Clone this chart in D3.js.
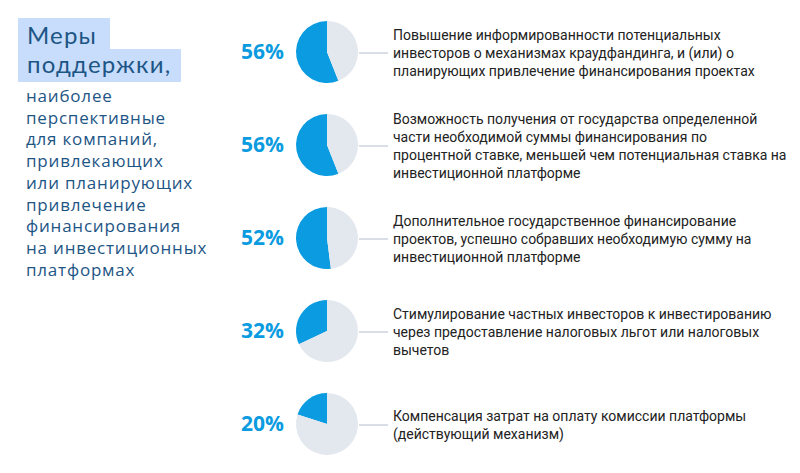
<!DOCTYPE html>
<html lang="ru">
<head>
<meta charset="utf-8">
<style>
  body { margin: 0; background: #fff; }
  svg text { font-family: "Open Sans", sans-serif; }
  .title { fill: #1d5585; font-family: Lato, sans-serif; font-size: 24px; letter-spacing: 1.2px; }
  .subtitle { fill: #1d5585; font-size: 17px; letter-spacing: 0.8px; }
  .pct { fill: #0a9be0; font-size: 21px; font-weight: 700; }
  .desc { fill: #222; font-size: 14px; font-family: Roboto, sans-serif; }
  .link { stroke: #b4bccb; stroke-width: 1; }
</style>
<script src="https://cdn.jsdelivr.net/npm/d3@7"></script>
</head>
<body>
<svg width="800" height="473"></svg>
<script>
// --- data ---
var values = [56, 56, 52, 32, 20];

var descriptions = [
  ["Повышение информированности потенциальных",
   "инвесторов о механизмах краудфандинга, и (или) о",
   "планирующих привлечение финансирования проектах"],
  ["Возможность получения от государства определенной",
   "части необходимой суммы финансирования по",
   "процентной ставке, меньшей чем потенциальная ставка на",
   "инвестиционной платформе"],
  ["Дополнительное государственное финансирование",
   "проектов, успешно собравших необходимую сумму на",
   "инвестиционной платформе"],
  ["Стимулирование частных инвесторов к инвестированию",
   "через предоставление налоговых льгот или налоговых",
   "вычетов"],
  ["Компенсация затрат на оплату комиссии платформы",
   "(действующий механизм)"]
];

var titleLines = ["Меры", "поддержки,"];

var subtitleLines = ["наиболее", "перспективные", "для компаний,", "привлекающих",
  "или планирующих", "привлечение", "финансирования", "на инвестиционных", "платформах"];

// --- layout ---
var svg = d3.select("svg");
var r = 31, cx = 327, textX = 393;

var y = d3.scalePoint()
    .domain(d3.range(values.length))
    .range([52, 424]);

var pie = d3.pie().sort(null).startAngle(0).endAngle(-2 * Math.PI);
var arc = d3.arc().innerRadius(0).outerRadius(r);
var colors = ["#0a9be0", "#e3e7ee"];

// title with highlight boxes
var title = svg.append("g");
titleLines.forEach(function(t, i) {
  var txt = title.append("text")
      .attr("class", "title")
      .attr("x", 27)
      .attr("y", 44 + i * 29)
      .text(t);
  var w = txt.node().getComputedTextLength();
  title.insert("rect", "text")
      .attr("x", 18)
      .attr("y", 18 + i * 31)
      .attr("width", i === 0 ? 92 : Math.max(163, w + 12))
      .attr("height", i === 0 ? 32 : 33)
      .attr("fill", "#c7ddfb");
});

svg.append("g").selectAll("text")
  .data(subtitleLines)
  .enter().append("text")
    .attr("class", "subtitle")
    .attr("x", 26)
    .attr("y", function(d, i) { return 102 + i * 21.7; })
    .text(function(d) { return d; });

// rows
var row = svg.append("g").selectAll("g")
  .data(values)
  .enter().append("g")
    .attr("transform", function(d, i) { return "translate(0," + y(i) + ")"; });

row.append("line")
    .attr("class", "link")
    .attr("x1", cx + r + 1)
    .attr("x2", textX - 5)
    .attr("y1", 1)
    .attr("y2", 1);

row.append("g")
    .attr("transform", "translate(" + cx + ",0)")
  .selectAll("path")
  .data(function(d) { return pie([d, 100 - d]); })
  .enter().append("path")
    .attr("d", arc)
    .attr("fill", function(d, i) { return colors[i]; });

row.append("text")
    .attr("class", "pct")
    .attr("x", 284)
    .attr("y", 7)
    .attr("text-anchor", "end")
    .text(function(d) { return d + "%"; });

row.append("text")
    .attr("class", "desc")
    .each(function(d, i) {
      var lines = descriptions[i];
      var t0 = -(lines.length - 1) * 9 + 6;
      d3.select(this).selectAll("tspan")
        .data(lines)
        .enter().append("tspan")
          .attr("x", textX)
          .attr("y", function(l, j) { return t0 + j * 18; })
          .text(function(l) { return l; });
    });
</script>
</body>
</html>
